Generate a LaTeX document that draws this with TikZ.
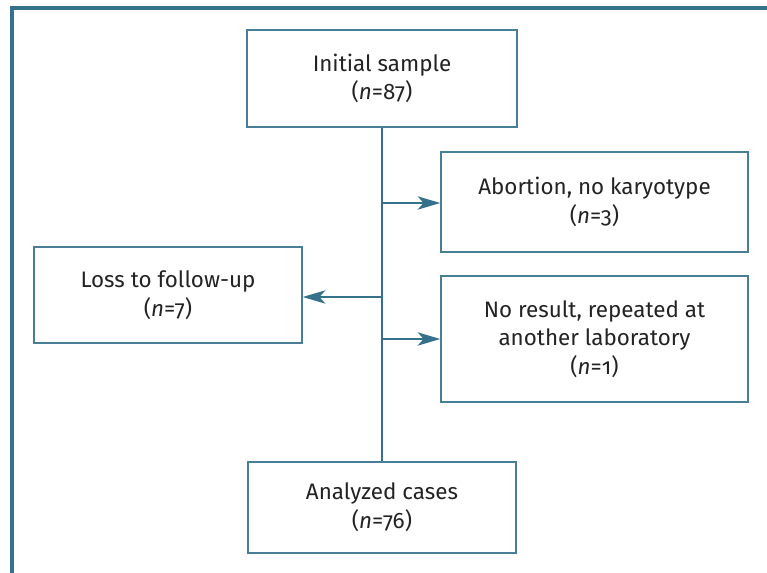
\documentclass[tikz,border=0pt]{standalone}
\usepackage{fontspec}
\setmainfont[Numbers=OldStyle]{Fira Sans}
\usetikzlibrary{arrows.meta}
\definecolor{framecol}{RGB}{53,113,138}
\definecolor{boxcol}{RGB}{72,126,150}
\definecolor{textcol}{RGB}{35,35,35}
\begin{document}
\begin{tikzpicture}[x=0.75pt, y=-0.75pt,
    stage/.style={draw=boxcol, line width=1.1pt, fill=white, align=center,
        text=textcol, font=\fontsize{16.8}{21.5}\selectfont, inner sep=0pt},
    flow/.style={draw=framecol, line width=1.3pt},
    branch/.style={flow, -{Stealth[length=17pt, width=10pt, inset=4.5pt]}}]
    \useasboundingbox (0,0) rectangle (767,573);
    % outer frame (open to right and bottom)
    \draw[framecol, line width=2.3pt] (12,580) -- (12,8) -- (780,8);

    % boxes
    \node[stage, minimum width=270*0.75pt, minimum height=97*0.75pt] (initial) at (382,78.5) {Initial sample\\(\textit{n}=87)};
    \node[stage, minimum width=307*0.75pt, minimum height=100*0.75pt] (abortion) at (594.5,202) {Abortion, no karyotype\\(\textit{n}=3)};
    \node[stage, minimum width=268*0.75pt, minimum height=96*0.75pt] (loss) at (168,295) {Loss to follow-up\\(\textit{n}=7)};
    \node[stage, minimum width=307*0.75pt, minimum height=126*0.75pt] (noresult) at (594.5,339) {No result, repeated at\\another laboratory\\(\textit{n}=1)};
    \node[stage, minimum width=268*0.75pt, minimum height=91*0.75pt] (analyzed) at (382,507.5) {Analyzed cases\\(\textit{n}=76)};

    % trunk points
    \coordinate (t1) at (initial.south |- 0,203);
    \coordinate (t2) at (initial.south |- 0,297);
    \coordinate (t3) at (initial.south |- 0,339);

    % connectors
    \draw[flow] (initial.south) -- (analyzed.north);
    \draw[branch] (t1) -- (t1 -| abortion.west);
    \draw[branch] (t2) -- (t2 -| loss.east);
    \draw[branch] (t3) -- (t3 -| noresult.west);
\end{tikzpicture}
\end{document}
